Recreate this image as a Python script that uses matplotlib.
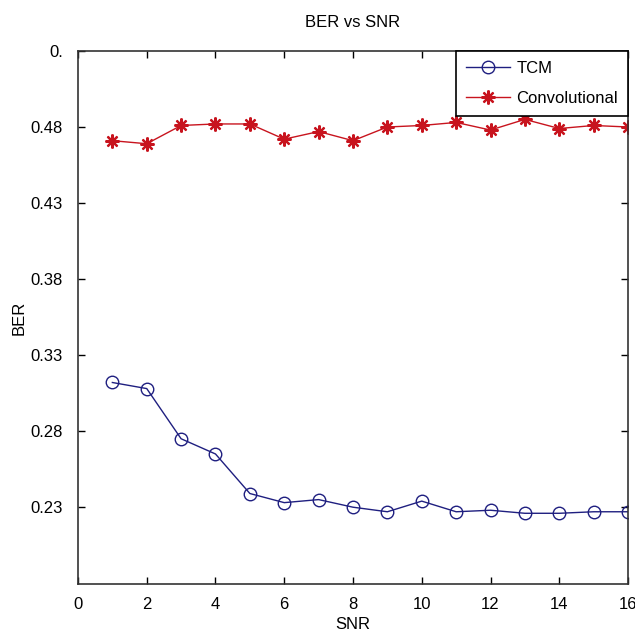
import matplotlib
matplotlib.use("Agg")
import matplotlib.pyplot as plt

plt.rcParams['font.family'] = ['Liberation Sans Narrow', 'Liberation Sans', 'DejaVu Sans']

snr = [1, 2, 3, 4, 5, 6, 7, 8, 9, 10, 11, 12, 13, 14, 15, 16]
ber_tcm = [0.312, 0.308, 0.275, 0.265, 0.239, 0.233, 0.235, 0.230, 0.227, 0.234,
           0.227, 0.228, 0.226, 0.226, 0.227, 0.227]
ber_conv = [0.471, 0.469, 0.481, 0.482, 0.482, 0.472, 0.477, 0.471, 0.480, 0.481,
            0.483, 0.478, 0.485, 0.479, 0.481, 0.480]

x_ticks = [0, 2, 4, 6, 8, 10, 12, 14, 16]
y_ticks = [0.23, 0.28, 0.33, 0.38, 0.43, 0.48, 0.53]
y_tick_labels = ["0.23", "0.28", "0.33", "0.38", "0.43", "0.48", "0."]

fig = plt.figure(figsize=(6.35, 6.37), dpi=100)
ax = fig.add_axes([0.1228, 0.0832, 0.8662, 0.8368])

ax.plot(snr, ber_tcm, color="#1f1f80", marker="o", markerfacecolor="none",
        markersize=9, linewidth=1, label="TCM")
ax.plot(snr, ber_conv, color="#c8141e", marker=(8, 2, 0), markersize=10,
        markeredgewidth=1.6, linewidth=1, label="Convolutional")

ax.set_xlim(0, 16)
ax.set_ylim(0.1795, 0.5295)
ax.set_xticks(x_ticks)
ax.set_yticks(y_ticks)
ax.set_yticklabels(y_tick_labels)
ax.tick_params(direction="in", top=True, right=True, labelsize=12, length=5, width=1)
ax.tick_params(axis="y", pad=11)
ax.tick_params(axis="x", pad=9)

for s in ax.spines.values():
    s.set_color("#333333")
    s.set_linewidth(1.2)

ax.set_title("BER vs SNR", fontsize=12, pad=17)
ax.set_xlabel("SNR", fontsize=12, labelpad=4)
ax.set_ylabel("BER", fontsize=12, labelpad=3)

leg = ax.legend(loc="upper right", borderaxespad=0, fontsize=12, fancybox=False,
                framealpha=1, edgecolor="black", handlelength=2.6,
                labelspacing=0.9, borderpad=0.6, handletextpad=0.4)
leg.get_frame().set_linewidth(1.2)

fig.savefig("out.png", dpi=100)
